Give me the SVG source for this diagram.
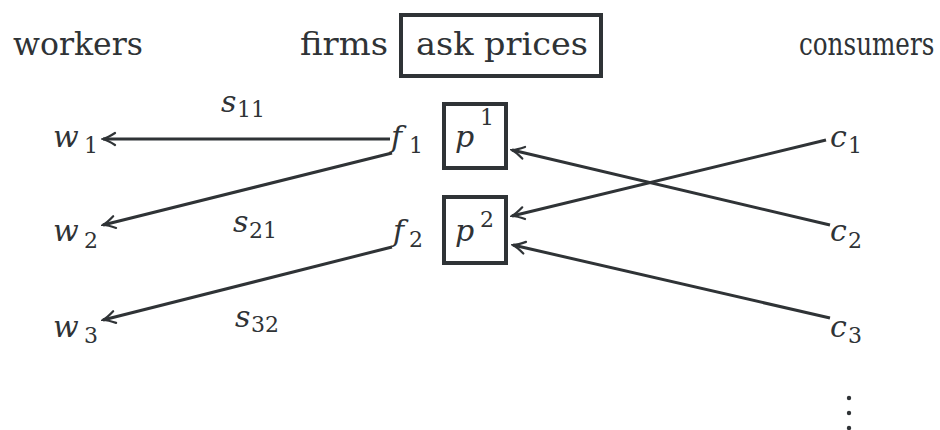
<svg xmlns="http://www.w3.org/2000/svg" width="940" height="430" viewBox="0 0 940 430">
<defs>
<style>
text{font-family:'DejaVu Serif',serif;fill:#2f3336}
.hd{font-size:32px}
.m{font-style:italic;font-size:30px}
.sb{font-size:22px}
.bx{fill:none;stroke:#2f3336;stroke-width:4}
.ln{fill:none;stroke:#2f3336;stroke-width:3;marker-end:url(#ah)}
</style>
<marker id="ah" markerUnits="userSpaceOnUse" viewBox="-14 -8 16 16" refX="0" refY="0" markerWidth="16" markerHeight="16" orient="auto">
<path d="M -12,-6 Q -5,-1.5 0,0 Q -5,1.5 -12,6" fill="none" stroke="#2f3336" stroke-width="2.2" stroke-linecap="round"/>
</marker>
</defs>
<rect width="940" height="430" fill="#ffffff"/>
<g id="headers">
<text class="hd" x="13" y="55" textLength="130" lengthAdjust="spacingAndGlyphs">workers</text>
<text class="hd" x="300" y="55" textLength="88" lengthAdjust="spacingAndGlyphs">firms</text>
<text class="hd" transform="translate(799 55) scale(0.77 1)" x="0" y="0">consumers</text>
</g>
<g id="ask-prices">
<rect class="bx" x="401" y="15" width="200" height="61"/>
<text class="hd" x="416" y="55" textLength="172" lengthAdjust="spacingAndGlyphs">ask prices</text>
</g>
<g id="w1"><text class="m" x="53" y="147">w</text><text class="sb" x="84" y="153">1</text></g>
<g id="w2"><text class="m" x="53" y="241">w</text><text class="sb" x="84" y="248">2</text></g>
<g id="w3"><text class="m" x="53" y="337">w</text><text class="sb" x="84" y="343">3</text></g>
<g id="f1"><text class="m" x="391" y="147">f</text><text class="sb" x="409" y="153">1</text></g>
<g id="f2"><text class="m" x="393" y="241">f</text><text class="sb" x="409" y="247">2</text></g>
<g id="p1">
<rect class="bx" x="444" y="104" width="62" height="64"/>
<text class="m" x="455" y="147">p</text><text class="sb" x="480" y="125">1</text>
</g>
<g id="p2">
<rect class="bx" x="444" y="197" width="62" height="66"/>
<text class="m" x="455" y="241">p</text><text class="sb" x="480" y="227">2</text>
</g>
<g id="c1"><text class="m" x="830" y="147">c</text><text class="sb" x="848" y="153">1</text></g>
<g id="c2"><text class="m" x="830" y="241">c</text><text class="sb" x="848" y="248">2</text></g>
<g id="c3"><text class="m" x="830" y="337">c</text><text class="sb" x="848" y="343">3</text></g>
<g id="more">
<circle cx="849" cy="398" r="2.2" fill="#2f3336"/>
<circle cx="849" cy="413" r="2.2" fill="#2f3336"/>
<circle cx="849" cy="428" r="2.2" fill="#2f3336"/>
</g>
<g id="labels">
<text class="m" x="221" y="112">s</text><text class="sb" x="237" y="117">11</text>
<text class="m" x="233" y="232">s</text><text class="sb" x="249" y="238">21</text>
<text class="m" x="235" y="327">s</text><text class="sb" x="251" y="332">32</text>
</g>
<g id="connectors">
<line class="ln" x1="390" y1="139" x2="103" y2="139"/>
<line class="ln" x1="392" y1="153" x2="103" y2="225"/>
<line class="ln" x1="392" y1="247" x2="103" y2="320"/>
<line class="ln" x1="826" y1="140" x2="512" y2="216"/>
<line class="ln" x1="830" y1="225" x2="512" y2="150"/>
<line class="ln" x1="830" y1="318" x2="513" y2="245"/>
</g>
</svg>
